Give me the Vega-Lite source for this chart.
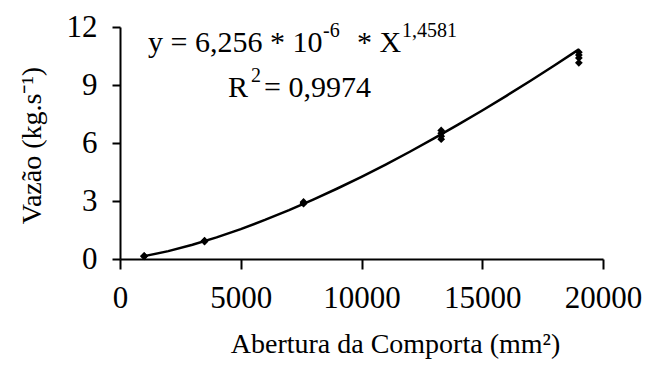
{
  "$schema": "https://vega.github.io/schema/vega-lite/v6.json",
  "autosize": {"type": "none"},
  "padding": {"left": 120, "top": 27, "right": 42, "bottom": 108},
  "width": 483,
  "height": 232,
  "background": "white",
  "config": {
    "view": {"stroke": null},
    "font": "Liberation Serif",
    "axis": {"grid": false, "domainColor": "black", "tickColor": "black", "domainWidth": 2, "tickWidth": 2, "labelColor": "black", "titleColor": "black", "labelFont": "Liberation Serif", "titleFont": "Liberation Serif", "labelFontSize": 31, "titleFontSize": 28, "titleFontWeight": "normal", "labelFlush": false, "labelOverlap": false, "labelBound": false}
  },
  "datasets": {
    "obs": [
      {"area": 1000, "flow": 0.13}, {"area": 1000, "flow": 0.15}, {"area": 1000, "flow": 0.16},
      {"area": 3500, "flow": 0.9}, {"area": 3500, "flow": 0.93}, {"area": 3500, "flow": 0.95},
      {"area": 7600, "flow": 2.86}, {"area": 7600, "flow": 2.9}, {"area": 7600, "flow": 2.95},
      {"area": 13300, "flow": 6.2}, {"area": 13300, "flow": 6.35}, {"area": 13300, "flow": 6.5}, {"area": 13300, "flow": 6.65},
      {"area": 19000, "flow": 10.15}, {"area": 19000, "flow": 10.4}, {"area": 19000, "flow": 10.55}, {"area": 19000, "flow": 10.7}
    ],
    "fit": [
      {"area": 1000, "flow": 0.148}, {"area": 2000, "flow": 0.407}, {"area": 3000, "flow": 0.735},
      {"area": 4000, "flow": 1.118}, {"area": 5000, "flow": 1.548}, {"area": 6000, "flow": 2.02},
      {"area": 7000, "flow": 2.529}, {"area": 8000, "flow": 3.072}, {"area": 9000, "flow": 3.647},
      {"area": 10000, "flow": 4.253}, {"area": 11000, "flow": 4.887}, {"area": 12000, "flow": 5.548},
      {"area": 13000, "flow": 6.235}, {"area": 14000, "flow": 6.946}, {"area": 15000, "flow": 7.682},
      {"area": 16000, "flow": 8.44}, {"area": 17000, "flow": 9.221}, {"area": 18000, "flow": 10.021},
      {"area": 19000, "flow": 10.843}
    ],
    "eqMain": [
      {"area": 1159, "flow": 10.71, "label": "y = 6,256 * 10"},
      {"area": 9814, "flow": 10.71, "label": "* X"},
      {"area": 4472, "flow": 8.38, "label": "R"},
      {"area": 5966, "flow": 8.38, "label": "= 0,9974"}
    ],
    "eqSup": [
      {"area": 8406, "flow": 11.48, "label": "-6"},
      {"area": 11677, "flow": 11.48, "label": "1,4581"},
      {"area": 5424, "flow": 9.16, "label": "2"}
    ]
  },
  "layer": [
    {
      "data": {"name": "fit"},
      "mark": {"type": "line", "color": "black", "strokeWidth": 2.5},
      "encoding": {
        "x": {"field": "area", "type": "quantitative", "scale": {"domain": [0, 20000]},
              "axis": {"values": [0, 5000, 10000, 15000, 20000], "format": "d", "tickSize": 10, "labelPadding": 14, "title": "Abertura da Comporta (mm²)", "titleX": 275, "titleY": 93, "titleBaseline": "alphabetic"}},
        "y": {"field": "flow", "type": "quantitative", "scale": {"domain": [0, 12]},
              "axis": {"values": [0, 3, 6, 9, 12], "tickSize": 8, "labelPadding": 15, "title": "Vazão (kg.s⁻¹)", "titleX": -88, "titleY": 118, "titleBaseline": "middle", "titleAlign": "center", "titleAngle": -90}}
      }
    },
    {
      "data": {"name": "obs"},
      "mark": {"type": "point", "shape": "diamond", "filled": true, "color": "black", "opacity": 1, "size": 60},
      "encoding": {
        "x": {"field": "area", "type": "quantitative"},
        "y": {"field": "flow", "type": "quantitative"}
      }
    },
    {
      "data": {"name": "eqMain"},
      "mark": {"type": "text", "align": "left", "baseline": "alphabetic", "fontSize": 30, "font": "Liberation Serif", "color": "black"},
      "encoding": {
        "x": {"field": "area", "type": "quantitative"},
        "y": {"field": "flow", "type": "quantitative"},
        "text": {"field": "label"}
      }
    },
    {
      "data": {"name": "eqSup"},
      "mark": {"type": "text", "align": "left", "baseline": "alphabetic", "fontSize": 20, "font": "Liberation Serif", "color": "black"},
      "encoding": {
        "x": {"field": "area", "type": "quantitative"},
        "y": {"field": "flow", "type": "quantitative"},
        "text": {"field": "label"}
      }
    }
  ]
}
